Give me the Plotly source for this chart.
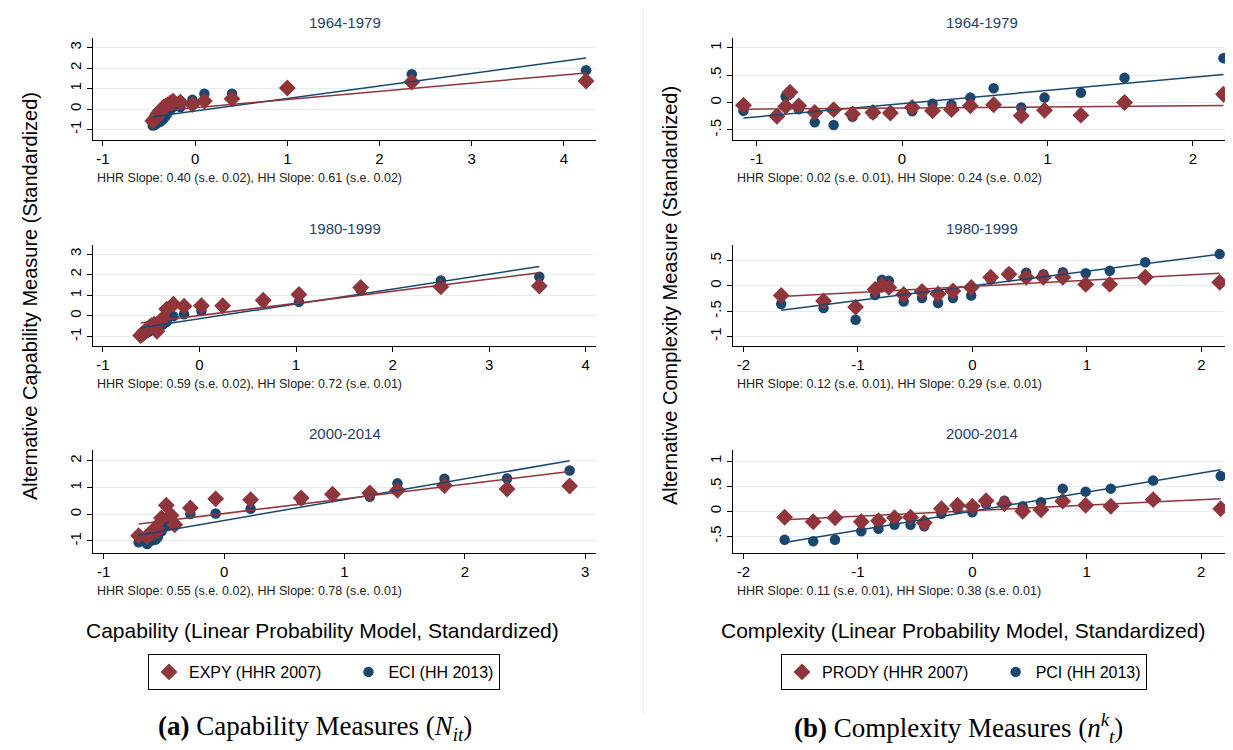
import plotly.graph_objects as go

W, H = 1233, 750
RED = "#8f353b"
BLUE = "#1a476f"
GRID = "#e4eef0"
NAVY = "#24416b"
FONT = "Liberation Sans, Arial, sans-serif"
NBSP = "\u00a0"

periods = ["1964-1979", "1980-1999", "2000-2014"]

# (a) capability panels: binned x (capability) and the two alternative measures
cap_x_6479 = [-0.46, -0.44, -0.42, -0.41, -0.40, -0.38, -0.37, -0.35, -0.34, -0.32,
              -0.30, -0.27, -0.24, -0.16, -0.03, 0.10, 0.40, 1.00, 2.35, 4.24]
eci_6479 = [-0.80, -0.78, -0.72, -0.65, -0.60, -0.62, -0.55, -0.50, -0.45, -0.35,
            -0.20, -0.05, 0.10, 0.10, 0.46, 0.75, 0.75, 1.04, 1.70, 1.89]
expy_6479 = [-0.58, -0.50, -0.40, -0.30, -0.20, -0.10, -0.05, 0.00, 0.10, 0.15,
             0.20, 0.30, 0.39, 0.34, 0.23, 0.39, 0.51, 1.03, 1.32, 1.37]

cap_x_8099 = [-0.61, -0.58, -0.56, -0.54, -0.52, -0.50, -0.47, -0.44, -0.41, -0.38,
              -0.34, -0.27, -0.16, 0.02, 0.24, 0.66, 1.03, 1.67, 2.50, 3.52]
eci_8099 = [-0.92, -0.88, -0.85, -0.80, -0.75, -0.70, -0.62, -0.55, -0.50, -0.42,
            -0.28, -0.02, 0.08, 0.24, 0.45, 0.68, 0.68, 1.25, 1.72, 1.90]
expy_8099 = [-0.95, -0.85, -0.75, -0.65, -0.55, -0.48, -0.40, -0.75, -0.30, -0.12,
             0.33, 0.57, 0.47, 0.49, 0.49, 0.76, 1.04, 1.38, 1.41, 1.45]

cap_x_0014 = [-0.71, -0.64, -0.62, -0.60, -0.57, -0.55, -0.52, -0.48, -0.44, -0.41,
              -0.28, -0.07, 0.22, 0.64, 0.90, 1.21, 1.44, 1.83, 2.35, 2.87]
eci_0014 = [-1.05, -1.11, -0.98, -0.98, -0.95, -0.85, -0.64, -0.45, -0.40, -0.36,
            0.01, 0.03, 0.21, 0.53, 0.72, 0.66, 1.16, 1.33, 1.34, 1.64]
expy_0014 = [-0.80, -0.83, -0.75, -0.70, -0.51, -0.60, -0.14, 0.34, -0.04, -0.39,
             0.24, 0.58, 0.55, 0.61, 0.75, 0.80, 0.90, 1.08, 0.95, 1.06]

# (b) complexity panels
cpx_x_6479 = [-1.09, -0.86, -0.80, -0.77, -0.71, -0.60, -0.47, -0.34, -0.20, -0.08,
              0.07, 0.21, 0.34, 0.47, 0.63, 0.82, 0.98, 1.23, 1.53, 2.21]
pci_6479 = [-0.15, -0.22, 0.11, 0.16, -0.12, -0.36, -0.41, -0.26, -0.21, -0.18,
            -0.16, -0.02, -0.04, 0.09, 0.26, -0.09, 0.09, 0.18, 0.45, 0.81]
prody_6479 = [-0.05, -0.25, -0.07, 0.19, -0.06, -0.18, -0.13, -0.21, -0.18, -0.19,
              -0.09, -0.15, -0.13, -0.06, -0.04, -0.24, -0.14, -0.23, 0.00, 0.15]

cpx_x_8099 = [-1.67, -1.30, -1.02, -0.85, -0.79, -0.73, -0.60, -0.44, -0.30, -0.17,
              -0.01, 0.16, 0.32, 0.47, 0.62, 0.79, 0.99, 1.20, 1.51, 2.16]
pci_8099 = [-0.36, -0.44, -0.67, -0.18, 0.12, 0.10, -0.31, -0.24, -0.34, -0.24,
            -0.19, 0.13, 0.26, 0.26, 0.23, 0.27, 0.25, 0.30, 0.47, 0.63]
prody_8099 = [-0.19, -0.30, -0.42, -0.07, 0.02, -0.03, -0.17, -0.11, -0.16, -0.10,
              -0.03, 0.17, 0.23, 0.17, 0.17, 0.17, 0.03, 0.03, 0.17, 0.07]

cpx_x_0014 = [-1.64, -1.39, -1.20, -0.97, -0.82, -0.68, -0.54, -0.42, -0.27, -0.13,
              0.00, 0.12, 0.28, 0.44, 0.60, 0.79, 0.99, 1.21, 1.58, 2.17]
pci_0014 = [-0.57, -0.60, -0.57, -0.40, -0.35, -0.27, -0.27, -0.30, -0.05, 0.05,
            -0.02, 0.15, 0.21, 0.10, 0.18, 0.45, 0.39, 0.45, 0.61, 0.70]
prody_0014 = [-0.12, -0.21, -0.13, -0.21, -0.19, -0.13, -0.12, -0.23, 0.05, 0.12,
              0.10, 0.21, 0.15, 0.00, 0.03, 0.20, 0.12, 0.10, 0.23, 0.05]

# fitted lines: slopes / s.e. as printed under each panel, intercepts
hhr_slope = [0.40, 0.59, 0.55, 0.02, 0.12, 0.11]
hhr_se = [0.02, 0.02, 0.02, 0.01, 0.01, 0.01]
hhr_icpt = [0.07, 0.02, 0.03, -0.10, -0.01, 0.01]
hh_slope = [0.61, 0.72, 0.78, 0.24, 0.29, 0.38]
hh_se = [0.02, 0.01, 0.01, 0.02, 0.01, 0.01]
hh_icpt = [-0.09, -0.14, -0.23, -0.02, 0.00, 0.00]

x_ticks = [[-1, 0, 1, 2, 3, 4], [-1, 0, 1, 2, 3, 4], [-1, 0, 1, 2, 3],
           [-1, 0, 1, 2], [-2, -1, 0, 1, 2], [-2, -1, 0, 1, 2]]
y_ticks = [[-1, 0, 1, 2, 3], [-1, 0, 1, 2, 3], [-1, 0, 1, 2],
           [-0.5, 0, 0.5, 1], [-1, -0.5, 0, 0.5], [-0.5, 0, 0.5, 1]]
x_ranges = [[-1.108, 4.348], [-1.103, 4.107], [-1.089, 3.089],
            [-1.162, 2.262], [-2.091, 2.259], [-2.091, 2.26]]
y_ranges = [[-1.51, 3.47], [-1.46, 3.44], [-1.45, 2.41],
            [-0.683, 1.177], [-1.19, 0.81], [-0.833, 1.22]]


def tick_text(v):
    s = f"{v:g}"
    return s.replace("0.", ".")


panels = [
    (cap_x_6479, expy_6479, eci_6479),
    (cap_x_8099, expy_8099, eci_8099),
    (cap_x_0014, expy_0014, eci_0014),
    (cpx_x_6479, prody_6479, pci_6479),
    (cpx_x_8099, prody_8099, pci_8099),
    (cpx_x_0014, prody_0014, pci_0014),
]
# trailing no-break spaces widen the gap between the two legend entries
names = [("EXPY (HHR 2007)" + NBSP * 5, "ECI (HH 2013)"),
         ("PRODY (HHR 2007)" + NBSP * 5, "PCI (HH 2013)")]

# pixel layout of the plot regions
col_px = [(85, 588), (725, 1223)]
row_px = [(30, 132), (237, 338), (442, 545)]

fig = go.Figure()
layout = {}
annotations = []

for i, (xs, red_y, blue_y) in enumerate(panels):
    col, row = i // 3, i % 3
    n = i + 1
    xa, ya = f"x{n}" if n > 1 else "x", f"y{n}" if n > 1 else "y"
    leg = "legend" if col == 0 else "legend2"
    show = row == 0
    red_name, blue_name = names[col]

    x0, x1 = min(xs), max(xs)
    fig.add_trace(go.Scatter(
        x=xs, y=blue_y, mode="markers", name=blue_name, xaxis=xa, yaxis=ya,
        marker=dict(symbol="circle", size=10.5, color=BLUE),
        showlegend=show, legend=leg, legendrank=2,
    ))
    fig.add_trace(go.Scatter(
        x=xs, y=red_y, mode="markers", name=red_name, xaxis=xa, yaxis=ya,
        marker=dict(symbol="diamond", size=13, color=RED),
        showlegend=show, legend=leg, legendrank=1,
    ))
    fig.add_trace(go.Scatter(
        x=[x0, x1], y=[hh_icpt[i] + hh_slope[i] * x0, hh_icpt[i] + hh_slope[i] * x1],
        mode="lines", line=dict(color=BLUE, width=1.5), xaxis=xa, yaxis=ya, showlegend=False,
    ))
    fig.add_trace(go.Scatter(
        x=[x0, x1], y=[hhr_icpt[i] + hhr_slope[i] * x0, hhr_icpt[i] + hhr_slope[i] * x1],
        mode="lines", line=dict(color=RED, width=1.5), xaxis=xa, yaxis=ya, showlegend=False,
    ))

    left, right = col_px[col]
    top, bottom = row_px[row]
    axis_common = dict(
        showline=True, linecolor="black", linewidth=1, ticks="outside", ticklen=5,
        tickcolor="black", tickfont=dict(family=FONT, size=15, color="black"),
        zeroline=False,
    )
    layout[f"xaxis{n if n > 1 else ''}"] = dict(
        domain=[left / W, right / W], anchor=ya, range=x_ranges[i],
        tickvals=x_ticks[i], ticktext=[tick_text(v) for v in x_ticks[i]],
        showgrid=False, **axis_common,
    )
    layout[f"yaxis{n if n > 1 else ''}"] = dict(
        domain=[1 - bottom / H, 1 - top / H], anchor=xa, range=y_ranges[i],
        tickvals=y_ticks[i], ticktext=[tick_text(v) for v in y_ticks[i]],
        tickangle=-90, showgrid=True, gridcolor=GRID, gridwidth=1, **axis_common,
    )

    annotations.append(dict(
        text=periods[row], xref="paper", yref="paper", x=(left + right) / 2 / W,
        y=1 - (top - 16) / H, xanchor="center", yanchor="middle", showarrow=False,
        font=dict(family=FONT, size=15, color=NAVY),
    ))
    annotations.append(dict(
        text=(f"HHR Slope: {hhr_slope[i]:.2f} (s.e. {hhr_se[i]:.2f}), "
              f"HH Slope: {hh_slope[i]:.2f} (s.e. {hh_se[i]:.2f})"),
        xref="paper", yref="paper", x=(left + 2) / W, y=1 - (bottom + 38) / H,
        xanchor="left", yanchor="middle", showarrow=False,
        font=dict(family=FONT, size=12.5, color="#222222"),
    ))

for cx, txt in [(22, "Alternative Capability Measure (Standardized)"),
                (662, "Alternative Complexity Measure (Standardized)")]:
    annotations.append(dict(
        text=txt, xref="paper", yref="paper", x=cx / W, y=1 - 288 / H, textangle=-90,
        xanchor="center", yanchor="middle", showarrow=False,
        font=dict(family=FONT, size=20, color="black"),
    ))
for cx, txt in [(314, "Capability (Linear Probability Model, Standardized)"),
                (955, "Complexity (Linear Probability Model, Standardized)")]:
    annotations.append(dict(
        text=txt, xref="paper", yref="paper", x=cx / W, y=1 - 622 / H,
        xanchor="center", yanchor="middle", showarrow=False,
        font=dict(family=FONT, size=21, color="black"),
    ))
for cx, txt in [(307, "<b>(a)</b> Capability Measures (<i>N<sub>it</sub></i>)"),
                (951, "<b>(b)</b> Complexity Measures (<i>n<sup>k</sup><sub>t</sub></i>)")]:
    annotations.append(dict(
        text=txt, xref="paper", yref="paper", x=cx / W, y=1 - 720 / H,
        xanchor="center", yanchor="middle", showarrow=False,
        font=dict(family="Liberation Serif, serif", size=27, color="black"),
    ))

legend_common = dict(
    orientation="h", xanchor="center", yanchor="top", y=1 - 646 / H,
    bordercolor="black", borderwidth=1, bgcolor="white",
    font=dict(family=FONT, size=16, color="black"), traceorder="normal",
)
layout["legend"] = dict(x=316 / W, **legend_common)
layout["legend2"] = dict(x=956 / W, **legend_common)

fig.update_layout(
    width=W, height=H, margin=dict(l=0, r=0, t=0, b=0),
    paper_bgcolor="white", plot_bgcolor="white",
    annotations=annotations,
    shapes=[dict(type="line", xref="paper", yref="paper", x0=635 / W, x1=635 / W,
                 y0=1 - 705 / H, y1=1, line=dict(color="#e6eef0", width=1))],
    **layout,
)

fig.write_html("out.html")
